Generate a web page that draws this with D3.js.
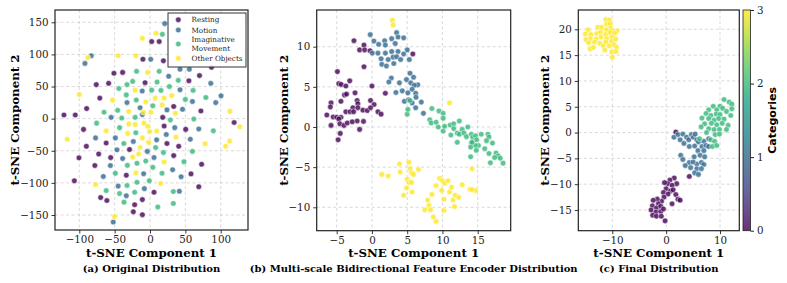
<!DOCTYPE html>
<html>
<head>
<meta charset="utf-8">
<script src="https://cdn.jsdelivr.net/npm/d3@7"></script>
<style>
body { margin: 0; background: #fff; }
svg text { font-family: "DejaVu Serif", serif; }
</style>
</head>
<body>
<div id="chart"></div>
<script>
// class names (legend) and colour index
var categories = ["Resting", "Motion", "Imaginative\nMovement", "Other Objects"];

// (a) original distribution
var origResting = [[2.4,120],[13,120],[-10,92.5],[19,90],[87,80],[-51,70.6],[-38.7,72],[55,59],[70,67],[-76,53],[-58.5,55],[-7,56],[-71,32],[-89.6,15.7],[33.5,19],[72,12],[-121.7,5.7],[-105.7,5.7],[18,2],[119,-6],[-94,-16.7],[20,-11.5],[50.5,-16.7],[-90,-43],[-62,-38],[24,-38.7],[40.6,-43],[-100.5,-61],[-72.6,-55],[-29,-48],[33.5,-57.5],[-55.6,-60.6],[-78,-73],[73,-71],[-33.5,-88],[58,-86],[-107,-96.7],[5.7,-114.5],[69,-106],[-69.8,-122.8],[-61,-127.5],[-10.8,-126],[-21.7,-134],[-23.6,-145],[-10.8,-149.5]];
var origMotion = [[20.8,148],[-83,98],[-92,86],[1,92.5],[42.5,77],[55.7,77],[26.4,66],[-11,43],[42.5,45],[86,55],[60,26.7],[93,25],[100.5,35.5],[-14,17],[24,13.6],[46,14.6],[-55,2],[-32.5,25],[-10.8,6.3],[35,-14],[69,-16],[-77,-30],[-49,-30],[23,-24.6],[57,-32],[-23.6,-35.5],[9.4,-33],[-46.7,-48.6],[-3.8,-51],[-38.7,-62],[5.7,-60.6],[-56,-73],[32,-79.5],[-9,-85.7],[44,-90.4],[-66,-90],[-45,-105],[-8,-109],[-33.5,-120],[41.5,-113],[-52,-161]];
var origImagine = [[17.5,131.5],[-19,73.7],[13,73.7],[40,59.6],[-24.5,58],[10,57],[-44,47],[-32.5,53],[2.4,44.4],[15.5,44],[27.4,50],[61,44],[-33.5,37],[-19.4,29],[50,30],[79,33],[-65,10],[-45.7,13],[4,20],[-40,1],[-21,2],[28.8,-2],[62,-0.5],[-75.5,-7],[-43,-14],[89.6,-19],[-20,-22],[-37,-38.7],[8,-45],[19,-52.8],[60,-51],[-6,-66],[-32,-72.7],[-18.4,-69.5],[4,-75.8],[48,-67],[-49,-85],[17,-85],[-18.4,-99],[-1,-96.7],[-32.5,-104],[-62,-112],[-43,-116.6],[-21.7,-114.5],[33,-113.5],[-36.8,-130],[11,-137.5],[33,-132]];
var origOther = [[8.5,133],[-10.8,125],[-88,95],[-45,98],[-20,98],[-3.3,72],[-21,44.4],[-100,37.6],[-53,28.8],[-6,26],[7.5,32],[20,32],[30.7,36],[-30,11],[-9.4,10],[1.4,10],[17,21.4],[36,8.4],[113,11.5],[127,-12.5],[-62,-19],[-30,-8.4],[-21,-9],[-8.5,-7],[-3,-12],[-117,-32],[-31.6,-23],[-10.8,-30],[-0.5,-20],[9.4,-19.3],[36.8,-28.8],[-1.9,-37],[78,-39],[112.7,-35],[107,-43],[-14,-45],[-24.5,-59.6],[-16,-55],[20,-67.4],[-19.8,-84.7],[15,-101],[-77,-102.5],[-50,-152.6]];

// (b) multi-scale bidirectional feature encoder
var encResting = [[-2.55,10.75],[-1.75,9.6],[-1.13,10.2],[-1.04,9.6],[-0.28,9.5],[-1.13,7.5],[-4.9,6.9],[-4.7,5.4],[-4.35,5.3],[-3.7,5.1],[-3.15,5.75],[-3.9,4.0],[-3.6,4.1],[-2.4,4.25],[0,5.1],[1.9,4.2],[-5.8,3.0],[-5.9,2.5],[-4.4,3.2],[-2.1,3.3],[-2,2.9],[-2.7,2.4],[-2.0,2.4],[-0.2,3.3],[0.3,2.8],[-6.4,1.5],[-5.5,1.25],[-5,1.2],[-4.4,1.2],[-3.7,1.9],[-3.1,1.9],[-2.6,1.9],[-1.28,2.1],[-0.66,2.05],[-0.2,2.4],[0.85,1.9],[1.3,1.6],[-5.8,0.2],[-4.7,1.0],[-4.55,0.4],[-3.97,0.2],[-3.5,0.5],[-2.1,0.75],[-1.2,0.7],[-2.8,0.65],[-4.5,-0.8],[-4.8,-1.6],[-1.75,-0.3],[5.8,9.1]];
var encMotion = [[-0.24,11.5],[0.28,10.7],[0.95,10.3],[1.8,10.75],[1.9,10.2],[2.8,11],[3.5,11.75],[3.7,11.2],[4.5,11.1],[3.3,10.4],[2.8,9.4],[3.7,9.4],[5.0,9.6],[4.5,9.1],[0.05,9.2],[0.85,9.2],[1.9,9.2],[1.3,8.5],[2.3,8.4],[3.0,8.7],[3.5,8.75],[3.1,7.9],[1.4,7.8],[2.05,7.6],[4.07,8.4],[5.3,8.4],[2.75,6.1],[2.4,5.6],[3.9,5.5],[4.9,5.9],[5.4,6.7],[5.9,6.2],[5.5,5.5],[6.5,5.25],[6.0,5.2],[3.4,4.3],[4.3,4.5],[5.1,4.25],[5.7,4.7],[6.2,4.2],[6.25,3.7],[4.6,3.2],[5.2,3.4],[5.7,3.0],[6.2,2.4],[7.0,3.1],[7.3,1.7]];
var encImagine = [[5.0,1.6],[5.4,3.3],[5.1,2.2],[8.5,2.3],[8.2,0.9],[8.4,0.5],[9.1,0.6],[9.5,2.0],[10.1,1.7],[10.1,1.1],[9.4,0],[10.1,-0.5],[10.3,0.1],[11.1,0.25],[11.6,0.4],[12.4,0.75],[11.2,-1.0],[11.6,-0.2],[12.1,-0.75],[12.4,-0.9],[12.1,-1.9],[12.8,-0.3],[13.6,0],[13.05,-0.75],[13.4,-1.2],[14.1,-0.9],[14.3,-1.3],[14.7,-1.1],[15.5,-0.9],[14.85,-1.6],[15.1,-2.3],[14.1,-2.0],[14.65,-2.3],[14.0,-2.5],[14.2,-1.9],[14.8,-2.9],[16.45,-0.9],[16.6,-1.25],[16.25,-1.7],[17.1,-2.0],[16.0,-2.7],[16.6,-3.3],[17.6,-3.25],[17.9,-3.6],[18.2,-3.9],[18.6,-4.5],[16.8,-4.45],[17.4,-3.8],[14.0,-3.7]];
var encOther = [[2.9,13.3],[3.0,12.7],[11.0,3.0],[14.2,-5.2],[1.4,-5.9],[2.3,-6.1],[3.9,-4.6],[4.0,-5.6],[5.25,-4.4],[5.4,-5.2],[5.6,-5.7],[5.9,-5.9],[6.6,-5.3],[5.0,-6.5],[5.25,-6.9],[5.6,-6.9],[4.9,-7.6],[5.7,-8.1],[4.5,-8.5],[7.5,-10.3],[7.9,-9.1],[8.1,-9.75],[8.3,-10.3],[8.5,-8.4],[8.7,-11.2],[9.1,-11.75],[9.1,-7.3],[9.6,-6.4],[10.0,-6.7],[9.9,-7.9],[10.2,-9.0],[10.2,-10.4],[10.3,-7.0],[10.8,-6.7],[11.0,-8.1],[11.3,-7.5],[11.5,-9.1],[11.8,-8.5],[12.3,-8.75],[11.7,-9.9],[12.8,-7.2],[13.9,-7.75],[14.7,-7.9],[14.2,-7.8]];

// (c) final distribution
var finResting = [[1.5,-8.8],[0.7,-9.2],[1.95,-9.9],[0.3,-9.9],[1.1,-10.2],[0,-10.9],[0.8,-11.3],[1.3,-11.1],[-0.5,-11.6],[0.35,-11.9],[-0.4,-12.5],[1.8,-12.0],[2.2,-12.9],[2.6,-13.1],[1.1,-13.8],[-0.85,-13.3],[-1.65,-12.9],[-2.4,-13.1],[-1.45,-13.8],[-2.55,-14.2],[-1.8,-14.6],[-1.0,-14.3],[-2.8,-15.0],[-1.9,-15.4],[-1.0,-15.3],[-0.5,-14.8],[-2.5,-16.0],[-1.8,-16.2],[-0.9,-16.2],[-0.2,-17.1],[4.3,-8.5],[1.8,0.1],[-0.3,-9.7]];
var finMotion = [[1.45,-0.9],[2.2,-0.4],[2.6,-1.4],[3.1,-0.3],[3.3,-2.1],[3.8,-0.9],[4.2,-1.4],[4.7,-0.4],[5.05,-0.9],[5.4,-0.3],[5.7,-1.4],[4.3,-2.7],[5.3,-2.6],[6.0,-1.8],[7.0,-1.7],[7.9,-1.2],[6.65,-2.7],[7.4,-2.5],[5.9,-3.5],[7.0,-3.5],[7.9,-2.7],[2.7,-4.4],[3.1,-5.2],[5.2,-4.7],[6.3,-4.4],[7.15,-4.7],[4.3,-5.8],[5.7,-6.1],[5.0,-5.7],[6.55,-5.8],[7.0,-6.2],[3.55,-6.4],[4.55,-6.8],[5.7,-7.0],[6.55,-7.0],[5.3,-7.8],[6.0,-8.1]];
var finImagine = [[10.75,6.4],[8.75,5.1],[10.0,5.1],[11.7,5.9],[12.2,5.5],[7.9,4.4],[9.4,4.4],[10.5,4.7],[11.2,4.1],[12.0,3.3],[12.2,4.6],[7.4,3.7],[8.3,3.3],[9.3,3.6],[10.0,3.5],[6.65,2.8],[7.9,2.7],[8.9,2.4],[9.75,2.7],[10.75,2.6],[7.15,1.7],[8.4,1.8],[9.4,1.5],[10.4,1.8],[11.5,1.4],[7.9,0.75],[8.9,0.6],[9.9,0.6],[11.2,0.6],[6.5,1.1],[7.5,0],[9.1,-0.4],[9.9,-0.3],[6.2,-1.2],[8.3,-1.4],[9.0,-1.7],[8.6,-2.7],[9.4,-2.5]];
var finOther = [[-11.2,21.9],[-10.55,21.8],[-11.05,21.0],[-10.4,21.0],[-10.3,20.2],[-14.5,19.9],[-12.7,20.4],[-12.0,20.4],[-11.1,19.9],[-9.9,19.7],[-9.1,19.7],[-15.0,19.1],[-14.0,19.0],[-12.9,19.2],[-12.2,19.4],[-11.2,19.0],[-10.4,19.4],[-9.6,19.2],[-14.1,18.2],[-13.0,18.1],[-12.1,18.5],[-11.05,18.2],[-10.05,18.5],[-14.9,18.0],[-14.4,17.4],[-13.3,17.5],[-12.3,17.3],[-11.2,17.5],[-10.1,17.7],[-9.35,18.1],[-11.7,16.8],[-10.55,16.8],[-9.65,17.0],[-9.2,16.5],[-14.1,16.2],[-11.4,16.0],[-10.1,15.6],[-9.35,15.7],[-10.0,14.6],[-13.5,16.5]];

// tick labels
var xTicksA = [-100, -50, 0, 50, 100], yTicksA = [-150, -100, -50, 0, 50, 100, 150];
var xTicksB = [-5, 0, 5, 10, 15], yTicksB = [-10, -5, 0, 5, 10];
var xTicksC = [-10, 0, 10], yTicksC = [-15, -10, -5, 0, 5, 10, 15, 20];
var cbarTicks = [0, 1, 2, 3];

var width = 787, height = 283;
var svg = d3.select("#chart").append("svg")
    .attr("width", width).attr("height", height);

function colorOf(i) { return d3.interpolateViridis(i / 3); }

var panels = [
    { box: [55, 248, 10, 230], xd: [-100, 100], xr: [79.3, 220.7], yd: [-150, 150], yr: [215, 22.3],
      xt: xTicksA, yt: yTicksA, series: [origResting, origMotion, origImagine, origOther],
      ytitleX: 19, caption: "(a) Original Distribution" },
    { box: [316.7, 510.7, 10, 230.7], xd: [-5, 15], xr: [336.7, 477.7], yd: [-10, 10], yr: [207.3, 46.7],
      xt: xTicksB, yt: yTicksB, series: [encResting, encMotion, encImagine, encOther],
      ytitleX: 288, caption: "(b) Multi-scale Bidirectional Feature Encoder Distribution" },
    { box: [578.3, 739.3, 10, 230.7], xd: [-10, 10], xr: [612.3, 720], yd: [-15, 20], yr: [210, 29.3],
      xt: xTicksC, yt: yTicksC, series: [finResting, finMotion, finImagine, finOther],
      ytitleX: 549, caption: "(c) Final Distribution" }
];

panels.forEach(function(p) {
    var x = d3.scaleLinear().domain(p.xd).range(p.xr);
    var y = d3.scaleLinear().domain(p.yd).range(p.yr);
    var g = svg.append("g");
    var bx0 = p.box[0], bx1 = p.box[1], by0 = p.box[2], by1 = p.box[3];

    // grid
    g.selectAll("line.gx").data(p.xt).enter().append("line")
        .attr("x1", function(d) { return x(d); }).attr("x2", function(d) { return x(d); })
        .attr("y1", by0).attr("y2", by1)
        .attr("stroke", "#c8c8c8").attr("stroke-width", 0.7).attr("stroke-dasharray", "3,2.5");
    g.selectAll("line.gy").data(p.yt).enter().append("line")
        .attr("y1", function(d) { return y(d); }).attr("y2", function(d) { return y(d); })
        .attr("x1", bx0).attr("x2", bx1)
        .attr("stroke", "#c8c8c8").attr("stroke-width", 0.7).attr("stroke-dasharray", "3,2.5");

    // points
    p.series.forEach(function(pts, i) {
        g.append("g").selectAll("circle").data(pts).enter().append("circle")
            .attr("cx", function(d) { return x(d[0]); })
            .attr("cy", function(d) { return y(d[1]); })
            .attr("r", 2.8)
            .attr("fill", colorOf(i)).attr("fill-opacity", 0.8)
            .attr("stroke", "#fff").attr("stroke-width", 0.5);
    });

    // frame
    g.append("rect").attr("x", bx0).attr("y", by0)
        .attr("width", bx1 - bx0).attr("height", by1 - by0)
        .attr("fill", "none").attr("stroke", "#222").attr("stroke-width", 1.2);

    // axes
    var xAxis = d3.axisBottom(x).tickValues(p.xt).tickSize(3.5).tickPadding(2.5);
    var yAxis = d3.axisLeft(y).tickValues(p.yt).tickSize(3.5).tickPadding(3);
    var gx = g.append("g").attr("transform", "translate(0," + by1 + ")").call(xAxis);
    var gy = g.append("g").attr("transform", "translate(" + bx0 + ",0)").call(yAxis);
    [gx, gy].forEach(function(a) {
        a.select(".domain").remove();
        a.selectAll("line").attr("stroke", "#222").attr("stroke-width", 0.9);
        a.selectAll("text").attr("font-size", 10.3).attr("fill", "#222")
            .attr("font-family", "DejaVu Serif");
    });

    var cx = (bx0 + bx1) / 2;
    g.append("text").attr("x", cx).attr("y", 256.5)
        .attr("text-anchor", "middle").attr("font-size", 11.8).attr("font-weight", "bold")
        .text("t-SNE Component 1");
    g.append("text")
        .attr("transform", "translate(" + p.ytitleX + "," + ((by0 + by1) / 2) + ") rotate(-90)")
        .attr("text-anchor", "middle").attr("font-size", 11.8).attr("font-weight", "bold")
        .text("t-SNE Component 2");
    g.append("text").attr("x", cx).attr("y", 272)
        .attr("text-anchor", "middle").attr("font-size", 10).attr("font-weight", "bold")
        .text(p.caption);
});

// legend in panel (a)
var legend = svg.append("g").attr("transform", "translate(168,13)");
legend.append("rect").attr("width", 78).attr("height", 54)
    .attr("fill", "#fff").attr("fill-opacity", 0.9)
    .attr("stroke", "#333").attr("stroke-width", 1);
var rowY = [6.7, 17, 31, 45.3];
categories.forEach(function(c, i) {
    legend.append("circle").attr("cx", 10.3).attr("cy", rowY[i])
        .attr("r", 2.8).attr("fill", colorOf(i)).attr("fill-opacity", 0.8)
        .attr("stroke", "#fff").attr("stroke-width", 0.5);
    var lines = c.split("\n");
    var t = legend.append("text").attr("font-size", 7.2).attr("fill", "#222")
        .attr("x", 23.5).attr("y", rowY[i] + 2.5 - (lines.length - 1) * 4.3);
    lines.forEach(function(l, k) {
        t.append("tspan").attr("x", 23.5).attr("dy", k === 0 ? 0 : 8.6).text(l);
    });
});

// colorbar
var cb = { x: 743, w: 7.5, y0: 10, y1: 230.7 };
var grad = svg.append("defs").append("linearGradient").attr("id", "viridis")
    .attr("x1", 0).attr("y1", 1).attr("x2", 0).attr("y2", 0);
d3.range(0, 1.0001, 0.1).forEach(function(t) {
    grad.append("stop").attr("offset", t).attr("stop-color", d3.interpolateViridis(t));
});
svg.append("rect").attr("x", cb.x).attr("y", cb.y0).attr("width", cb.w).attr("height", cb.y1 - cb.y0)
    .attr("fill", "url(#viridis)").attr("fill-opacity", 0.8)
    .attr("stroke", "#222").attr("stroke-width", 0.8);
var cbScale = d3.scaleLinear().domain([0, 3]).range([cb.y1, cb.y0]);
var cbAxis = svg.append("g").attr("transform", "translate(" + (cb.x + cb.w) + ",0)")
    .call(d3.axisRight(cbScale).tickValues(cbarTicks).tickFormat(d3.format("d"))
        .tickSize(3.5).tickPadding(3));
cbAxis.select(".domain").remove();
cbAxis.selectAll("line").attr("stroke", "#222");
cbAxis.selectAll("text").attr("font-size", 10.3).attr("fill", "#222").attr("font-family", "DejaVu Serif");
svg.append("text")
    .attr("transform", "translate(776," + ((cb.y0 + cb.y1) / 2) + ") rotate(-90)")
    .attr("text-anchor", "middle").attr("font-size", 11).attr("font-weight", "bold")
    .style("font-family", "'DejaVu Sans', sans-serif")
    .text("Categories");
</script>
</body>
</html>
